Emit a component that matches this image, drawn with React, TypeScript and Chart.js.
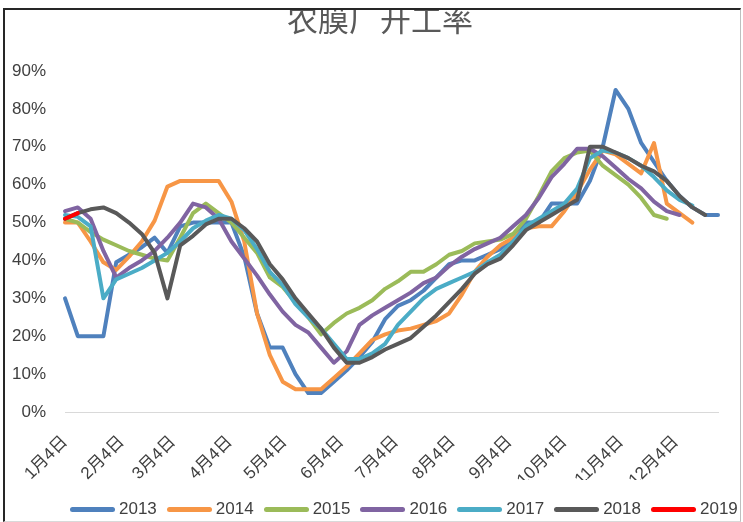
import { useEffect, useRef } from 'react';
import { Chart } from 'chart.js/auto';

// weekly observation dates, as days after 1月4日
const WEEK_DAYS = [
  0, 7, 14, 21, 28, 35, 42, 49, 56, 63, 70, 77, 84, 91, 98, 105, 112, 119, 126, 133,
  140, 147, 154, 161, 168, 175, 182, 189, 196, 203, 210, 217, 224, 231, 238, 245, 252,
  259, 266, 273, 280, 287, 294, 301, 308, 315, 322, 329, 336, 343, 350, 357,
];

const TICK_DAYS = [0, 31, 59, 90, 120, 151, 181, 212, 243, 273, 304, 334];
const TICK_LABELS = [
  '1月4日', '2月4日', '3月4日', '4月4日', '5月4日', '6月4日',
  '7月4日', '8月4日', '9月4日', '10月4日', '11月4日', '12月4日',
];

const YEARS = ['2013', '2014', '2015', '2016', '2017', '2018', '2019'];
const COLORS = ['#4F81BD', '#F79646', '#9BBB59', '#8064A2', '#4BACC6', '#595959', '#FF0000'];

// operating rate, %
const RATE_2013 = [
  30, 20, 20, 20, 39.5, 41.5, 43.5, 46, 42, 49,
  50, 50, 50, 50, 41, 26, 17, 17, 10, 5,
  5, 8, 11, 14.5, 18.5, 24.5, 28, 29.5, 32, 35.5,
  39, 40, 40, 41.5, 43, 46, 50, 50, 55, 55,
  55, 61, 70, 85, 80, 71, 66, 61, 57, 54,
  52, 52,
];
const RATE_2014 = [
  50, 50, 45, 39.5, 37.5, 41, 45, 50.5, 59.5, 61,
  61, 61, 61, 55.5, 45, 26, 15, 8, 6, 6,
  6, 9, 12, 15.5, 19, 20.5, 21.5, 22, 23, 24,
  26, 31, 37, 41, 44, 46, 48.5, 49, 49, 53,
  58, 64, 69, 68, 65.5, 63, 71, 55, 52.5, 50,
];
const RATE_2015 = [
  51, 50, 47.5, 45.5, 44, 42.5, 41.5, 40.5, 40, 46,
  52.5, 55, 52.5, 50, 46, 42, 35.5, 33, 29, 25,
  20.5, 23.5, 26, 27.5, 29.5, 32.5, 34.5, 37, 37, 39,
  41.5, 42.5, 44.5, 45, 45.5, 47, 51, 57, 63.5, 67,
  68.5, 69, 65, 62.5, 60, 56.5, 52, 51,
];
const RATE_2016 = [
  53, 54, 51, 42.5, 35.5, 38, 40, 42.5, 46, 50,
  55, 54, 51, 45, 40.5, 36, 31, 26.5, 23, 21,
  17, 13, 16, 23, 25.5, 27.5, 29.5, 31.5, 34, 35.5,
  38.5, 41, 43, 44.5, 46, 49, 52, 56.5, 62, 65.5,
  69.5, 69.5, 67.5, 64.5, 61.5, 59, 55.5, 53, 52,
];
const RATE_2017 = [
  52, 51.5, 49, 30, 35, 36.5, 38, 40, 42, 45,
  48.5, 50.5, 52, 51, 48, 43, 37, 33.5, 28.5, 25,
  22, 18, 14, 14, 15.5, 18, 23, 26.5, 30, 32.5,
  34, 35.5, 37, 39.5, 41.5, 45, 49, 51, 53, 55,
  59, 67, 69, 68.5, 67, 65, 62, 58.5, 56, 54.5,
];
const RATE_2018 = [
  51, 52.5, 53.5, 54, 52.5, 50, 47, 42, 30, 44,
  46.5, 49.5, 51, 51, 48.5, 45, 39, 35, 30, 26,
  22, 17, 13, 13, 14.5, 16.5, 18, 19.5, 22.5, 25.5,
  29, 32.5, 36.5, 39, 40.5, 44, 48, 50, 52, 54,
  56, 70, 70, 68.5, 67, 65, 63.5, 61, 57, 54,
  52,
];
const RATE_2019 = [51, 52.5];

const SERIES = [RATE_2013, RATE_2014, RATE_2015, RATE_2016, RATE_2017, RATE_2018, RATE_2019];

const FONT = "'Liberation Sans', 'Noto Sans CJK SC', sans-serif";
const TEXT = '#404040';

export default function App() {
  const canvasRef = useRef<HTMLCanvasElement>(null);

  useEffect(() => {
    if (!canvasRef.current) return;
    const chart = new Chart(canvasRef.current, {
      type: 'line',
      data: {
        datasets: SERIES.map((values, s) => ({
          label: YEARS[s],
          data: values.map((v, i) => ({ x: WEEK_DAYS[i], y: v })),
          borderColor: COLORS[s],
          backgroundColor: COLORS[s],
          borderWidth: 4,
          pointRadius: 0,
          tension: 0,
          borderJoinStyle: 'round',
          borderCapStyle: 'round',
          // later years sit on top, as in the original
          order: SERIES.length - 1 - s,
          clip: false,
        })),
      },
      options: {
        animation: false,
        responsive: true,
        maintainAspectRatio: false,
        layout: { padding: { top: 71, right: 25, left: 0, bottom: 0 } },
        plugins: {
          legend: { display: false },
          tooltip: { enabled: false },
        },
        scales: {
          x: {
            type: 'linear',
            min: 0,
            max: 357,
            grid: { display: false },
            border: { display: true, color: '#d9d9d9', width: 1 },
            afterBuildTicks: (axis) => {
              axis.ticks = TICK_DAYS.map((v) => ({ value: v }));
            },
            afterFit: (axis) => {
              axis.height = 68;
            },
            ticks: {
              autoSkip: false,
              minRotation: 45,
              maxRotation: 45,
              padding: 12,
              color: TEXT,
              font: { family: FONT, size: 17 },
              callback: (v) => TICK_LABELS[TICK_DAYS.indexOf(Number(v))] ?? '',
            },
          },
          y: {
            min: 0,
            max: 90,
            grid: { display: false, drawTicks: false },
            border: { display: false },
            afterFit: (axis) => {
              axis.width = 65;
            },
            ticks: {
              stepSize: 10,
              padding: 19,
              color: TEXT,
              font: { family: FONT, size: 17 },
              callback: (v) => `${v}%`,
            },
          },
        },
      },
    });
    return () => { chart.destroy(); };
  }, []);

  return (
    <div style={{ position: 'fixed', left: 0, top: 0, width: 743, height: 522, background: '#fff', overflow: 'hidden' }}>
      <div style={{ position: 'absolute', left: 0, top: 0, width: 743, height: 480 }}>
        <canvas ref={canvasRef} />
      </div>

      {/* title, clipped by the frame's top edge */}
      <div style={{ position: 'absolute', left: 0, top: 10, width: 743, height: 40, overflow: 'hidden' }}>
        <div style={{
          position: 'absolute', left: 0, top: -8, width: 760, textAlign: 'center',
          fontFamily: "'Noto Sans CJK SC', sans-serif", fontSize: 31, lineHeight: '31px', color: '#595959',
        }}>
          农膜厂开工率
        </div>
      </div>

      {/* frame */}
      <div style={{
        position: 'absolute', left: 3, top: 8, width: 738, height: 514, boxSizing: 'border-box',
        borderLeft: '2px solid #262626', borderTop: '2px solid #262626',
        borderRight: '1px solid #bfbfbf', borderBottom: '1px solid #d9d9d9', pointerEvents: 'none',
      }} />

      {/* legend */}
      <div style={{ position: 'absolute', left: 70, top: 500, display: 'flex', alignItems: 'center', gap: 10 }}>
        {YEARS.map((y, i) => (
          <LegendItem key={y} color={COLORS[i]} label={y} />
        ))}
      </div>
    </div>
  );
}

function LegendItem({ color, label }: { color: string; label: string }) {
  return (
    <div style={{ display: 'flex', alignItems: 'center' }}>
      <div style={{ width: 45, height: 5, borderRadius: 3, background: color, marginRight: 4, flexShrink: 0 }} />
      <span style={{ fontFamily: FONT, fontSize: 17, lineHeight: '18px', color: TEXT }}>{label}</span>
    </div>
  );
}
